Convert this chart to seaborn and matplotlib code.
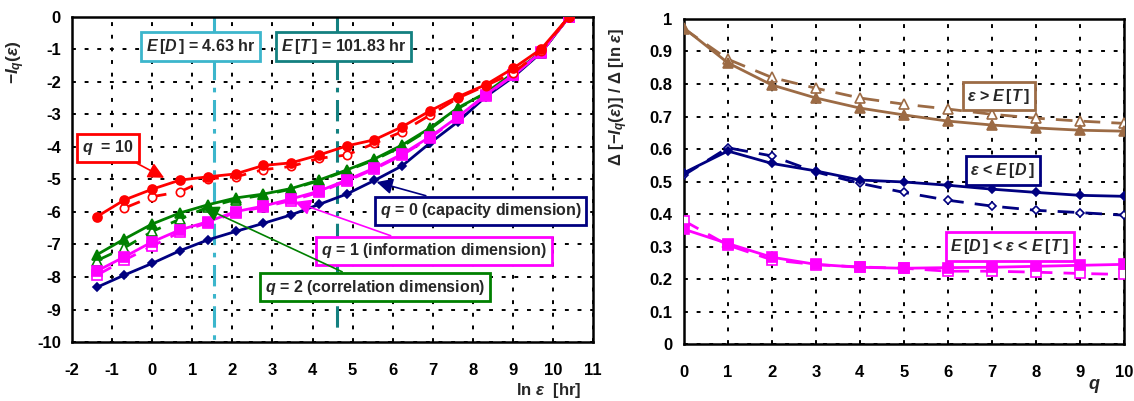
import numpy as np
import pandas as pd
import seaborn as sns
import matplotlib.pyplot as plt

# left panel: -I_q(eps) vs ln(eps)
eps_hr = [0.25, 0.5, 1, 2, 4, 8, 16, 32, 64, 128, 256, 512, 1024, 2048, 4096, 8192, 16384, 32768]
iq_q0 = [-8.32, -7.94, -7.58, -7.19, -6.86, -6.60, -6.35, -6.09, -5.77, -5.45, -5.03, -4.58, -3.88, -3.23, -2.46, -1.85, -1.10, 0]
iq_q1 = [-7.82, -7.38, -6.92, -6.55, -6.30, -5.99, -5.82, -5.60, -5.36, -5.02, -4.65, -4.22, -3.69, -3.08, -2.40, -1.78, -1.09, 0]
iq_q1_b = [-7.95, -7.48, -7.05, -6.62, -6.33, -6.02, -5.85, -5.65, -5.40, -5.05, -4.68, -4.25, -3.72, -3.10, -2.42, -1.80, -1.10, 0]
iq_q2 = [-7.32, -6.83, -6.37, -6.03, -5.78, -5.57, -5.45, -5.28, -5.02, -4.71, -4.37, -3.94, -3.42, -2.80, -2.34, -1.73, -1.09, 0]
iq_q2_b = [-7.50, -7.10, -6.60, -6.22, -5.85, -5.62, -5.48, -5.30, -5.04, -4.73, -4.40, -3.98, -3.45, -2.82, -2.36, -1.75, -1.10, 0]
iq_q10 = [-6.15, -5.63, -5.30, -5.02, -4.92, -4.83, -4.57, -4.49, -4.25, -3.97, -3.78, -3.38, -2.89, -2.46, -2.09, -1.58, -0.99, 0]
iq_q10_b = [-5.88, -5.53, -5.38, -4.98, -4.92, -4.70, -4.60, -4.35, -4.25, -3.89, -3.53, -3.02, -2.50, -2.12, -1.72, -1.05, 0]  # starts at eps=0.5

E_D = 4.63
E_T = 101.83

# right panel: slopes vs q
q_vals = [0, 1, 2, 3, 4, 5, 6, 7, 8, 9, 10]
slope_gt_T = [0.972, 0.865, 0.797, 0.757, 0.726, 0.705, 0.686, 0.674, 0.665, 0.658, 0.655]
slope_gt_T_b = [0.970, 0.876, 0.820, 0.787, 0.757, 0.738, 0.723, 0.707, 0.695, 0.686, 0.679]
slope_lt_D = [0.527, 0.594, 0.556, 0.533, 0.505, 0.499, 0.489, 0.477, 0.467, 0.458, 0.455]
slope_lt_D_b = [0.520, 0.604, 0.579, 0.530, 0.495, 0.467, 0.443, 0.425, 0.412, 0.405, 0.397]
slope_mid = [0.354, 0.310, 0.268, 0.246, 0.237, 0.234, 0.236, 0.237, 0.240, 0.243, 0.246]
slope_mid_b = [0.380, 0.305, 0.260, 0.245, 0.238, 0.234, 0.225, 0.225, 0.222, 0.218, 0.215]

RED, GREEN, MAG, NAVY = '#ff0000', '#008000', '#ff00ff', '#000080'
BROWN = '#9c6b45'
LBLUE, TEAL = '#3cb6cc', '#138080'

sns.set_theme(style='white')
plt.rcParams['font.family'] = ['Liberation Sans', 'DejaVu Sans']
plt.rcParams['font.weight'] = 'bold'
plt.rcParams['axes.unicode_minus'] = False
plt.rcParams['mathtext.fontset'] = 'custom'
plt.rcParams['mathtext.rm'] = 'Liberation Sans:bold'
plt.rcParams['mathtext.bf'] = 'Liberation Sans:bold'
plt.rcParams['mathtext.it'] = 'Liberation Sans:italic:bold'

fig = plt.figure(figsize=(11.34, 4.01), dpi=100)
ax1 = fig.add_axes([0.0635, 0.147, 0.4595, 0.811])
ax2 = fig.add_axes([0.603, 0.141, 0.388, 0.812])

lnx = np.log(eps_hr)


def series(ax, x, y, color, marker, ms, filled=True, dashed=False, lw=2):
    df = pd.DataFrame({'x': x, 'y': y})
    kw = dict(marker=marker, markersize=ms, markeredgecolor=color, markeredgewidth=1.2)
    kw['markerfacecolor'] = color if filled else 'white'
    if dashed:
        kw['linestyle'] = (0, (6, 4))
    sns.lineplot(data=df, x='x', y='y', color=color, lw=lw, ax=ax, sort=False,
                 estimator=None, zorder=3, **kw)


def box(ax, text, xy, color, fs=11.5):
    ax.text(xy[0], xy[1], text, ha='center', va='center', fontsize=fs, fontweight='bold',
            zorder=6, bbox=dict(boxstyle='square,pad=0.3', fc='white', ec=color, lw=2))


def arrow_box(ax, text, xytext, target, color, fs=11.5):
    ax.annotate(text, xy=target, xytext=xytext, ha='center', va='center', fontsize=fs,
                fontweight='bold', zorder=6,
                bbox=dict(boxstyle='square,pad=0.3', fc='white', ec=color, lw=2),
                arrowprops=dict(arrowstyle='-|>', color=color, lw=1.2, mutation_scale=24,
                                shrinkA=0, shrinkB=0))


grid_kw = dict(color='black', linestyle=(0, (2, 4.5)), linewidth=1.4)

# ---- left panel
ax = ax1
ax.plot([np.log(E_D)] * 2, [0, -10], color=LBLUE, lw=2.2, ls=(0, (7, 2.5, 1.5, 2.5)), zorder=2)
ax.plot([np.log(E_T)] * 2, [0, -9.7], color=TEAL, lw=2.2, ls=(0, (7, 2.5, 1.5, 2.5)), zorder=2)

series(ax, lnx, iq_q0, NAVY, 'D', 4.5)
series(ax, lnx, iq_q2_b, GREEN, '^', 6.5, filled=False, dashed=True)
series(ax, lnx, iq_q2, GREEN, '^', 6.5)
series(ax, lnx, iq_q1_b, MAG, 's', 6.5, filled=False, dashed=True)
series(ax, lnx, iq_q1, MAG, 's', 6.5)
series(ax, lnx[1:], iq_q10_b, RED, 'o', 6, filled=False, dashed=True)
series(ax, lnx, iq_q10, RED, 'o', 6.5)

ax.set_xlim(-2, 11)
ax.set_ylim(-10, 0)
ax.set_xticks(range(-2, 12))
ax.set_yticks(range(-10, 1))
ax.set_yticklabels([str(v) for v in range(-10, 1)])
ax.set_xticklabels([str(v) for v in range(-2, 12)])
ax.grid(True, **grid_kw)
ax.set_ylabel(r'$-I_q(\varepsilon)$', fontsize=12.5, fontweight='bold')
ax.yaxis.set_label_coords(-0.086, 0.86)
ax.set_xlabel(r'ln $\varepsilon$  [hr]', fontsize=12, fontweight='bold')
ax.xaxis.set_label_coords(0.914, -0.12)

box(ax, r'$E\,[D\,]$ = 4.63 hr', (1.2, -0.92), LBLUE)
box(ax, r'$E\,[T\,]$ = 101.83 hr', (4.78, -0.92), TEAL)
arrow_box(ax, r'$q$  = 10', (-1.1, -4.03), (0.3, -4.95), RED)
arrow_box(ax, r'$q$ = 0 (capacity dimension)', (8.2, -5.97), (5.6, -5.08), NAVY)
arrow_box(ax, r'$q$ = 1 (information dimension)', (7.03, -7.2), (3.56, -5.69), MAG)
arrow_box(ax, r'$q$ = 2 (correlation dimension)', (5.56, -8.31), (1.27, -5.85), GREEN)

# ---- right panel
ax = ax2
series(ax, q_vals, slope_gt_T_b, BROWN, '^', 6.5, filled=False, dashed=True)
series(ax, q_vals, slope_gt_T, BROWN, '^', 6.5)
series(ax, q_vals, slope_lt_D_b, NAVY, 'D', 4.5, filled=False, dashed=True)
series(ax, q_vals, slope_lt_D, NAVY, 'D', 4.5)
series(ax, q_vals, slope_mid_b, MAG, 's', 6.5, filled=False, dashed=True)
series(ax, q_vals, slope_mid, MAG, 's', 6.5)

ax.set_xlim(0, 10)
ax.set_ylim(0, 1)
ax.set_xticks(range(0, 11))
ax.set_yticks(np.arange(0, 1.01, 0.1))
ax.set_yticklabels(['0', '0.1', '0.2', '0.3', '0.4', '0.5', '0.6', '0.7', '0.8', '0.9', '1'])
ax.grid(True, **grid_kw)
ax.set_ylabel(r'$\Delta$ [$-I_q(\varepsilon)$] / $\Delta$ [ln $\varepsilon$]', fontsize=12,
              fontweight='bold')
ax.yaxis.set_label_coords(-0.123, 0.76)
ax.set_xlabel(r'$q$', fontsize=13, fontweight='bold')
ax.xaxis.set_label_coords(0.932, -0.1)

box(ax, r'$\varepsilon$ > $E\,[T\,]$', (7.16, 0.763), BROWN)
box(ax, r'$\varepsilon$ < $E\,[D\,]$', (7.25, 0.535), NAVY)
box(ax, r'$E\,[D\,]$ < $\varepsilon$ < $E\,[T\,]$', (7.41, 0.30), MAG)

for a in (ax1, ax2):
    for s in a.spines.values():
        s.set_color('black')
        s.set_linewidth(1.8)
        s.set_visible(True)
    a.set_facecolor('white')
    a.tick_params(axis='both', which='major', direction='inout', length=8, width=1.5,
                  colors='black', labelsize=12)
    a.tick_params(axis='x', pad=11)
    a.tick_params(axis='y', pad=4)
    for lab in a.get_xticklabels() + a.get_yticklabels():
        lab.set_fontweight('bold')

fig.savefig('out.png', dpi=100, facecolor='white')
